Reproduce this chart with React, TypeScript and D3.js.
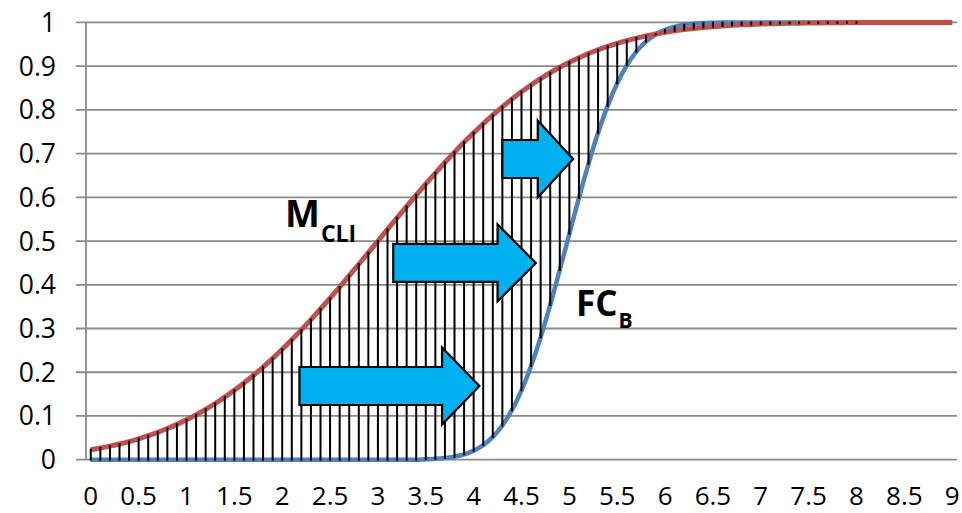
import React from "react";
import * as d3 from "d3";

// Category values on the x axis (step 0.1)
const xValues = [
  0, 0.1, 0.2, 0.3, 0.4, 0.5, 0.6, 0.7, 0.8, 0.9,
  1, 1.1, 1.2, 1.3, 1.4, 1.5, 1.6, 1.7, 1.8, 1.9,
  2, 2.1, 2.2, 2.3, 2.4, 2.5, 2.6, 2.7, 2.8, 2.9,
  3, 3.1, 3.2, 3.3, 3.4, 3.5, 3.6, 3.7, 3.8, 3.9,
  4, 4.1, 4.2, 4.3, 4.4, 4.5, 4.6, 4.7, 4.8, 4.9,
  5, 5.1, 5.2, 5.3, 5.4, 5.5, 5.6, 5.7, 5.8, 5.9,
  6, 6.1, 6.2, 6.3, 6.4, 6.5, 6.6, 6.7, 6.8, 6.9,
  7, 7.1, 7.2, 7.3, 7.4, 7.5, 7.6, 7.7, 7.8, 7.9,
  8, 8.1, 8.2, 8.3, 8.4, 8.5, 8.6, 8.7, 8.8, 8.9,
  9,
];

// M_CLI (red)
const mcliValues = [
  0.0228, 0.0266, 0.031, 0.0359, 0.0415, 0.0478, 0.0548, 0.0626, 0.0712, 0.0808,
  0.0912, 0.1026, 0.1151, 0.1285, 0.1431, 0.1587, 0.1753, 0.1931, 0.2119, 0.2317,
  0.2525, 0.2743, 0.2969, 0.3204, 0.3446, 0.3694, 0.3949, 0.4207, 0.447, 0.4734,
  0.5, 0.5266, 0.553, 0.5793, 0.6051, 0.6306, 0.6554, 0.6796, 0.7031, 0.7257,
  0.7475, 0.7683, 0.7881, 0.8069, 0.8247, 0.8413, 0.8569, 0.8715, 0.8849, 0.8974,
  0.9088, 0.9192, 0.9288, 0.9374, 0.9452, 0.9522, 0.9585, 0.9641, 0.969, 0.9734,
  0.9772, 0.9806, 0.9836, 0.9861, 0.9883, 0.9902, 0.9918, 0.9932, 0.9944, 0.9953,
  0.9962, 0.9969, 0.9974, 0.9979, 0.9983, 0.9987, 0.9989, 0.9991, 0.9993, 0.9995,
  0.9996, 1, 1, 1, 1, 1, 1, 1, 1, 1,
  1,
];

// FC_B (blue)
const fcbValues = [
  0, 0, 0, 0, 0, 0, 0, 0, 0, 0,
  0, 0, 0, 0, 0, 0, 0, 0, 0, 0,
  0, 0, 0, 0, 0, 0, 0, 0, 0, 0,
  0, 0, 0, 0, 0, 0.001, 0.002, 0.0038, 0.007, 0.0122,
  0.0206, 0.0334, 0.0521, 0.0783, 0.1135, 0.1587, 0.2142, 0.2799, 0.3538, 0.4338,
  0.5166, 0.5987, 0.6766, 0.7475, 0.8092, 0.8607, 0.9018, 0.9332, 0.9562, 0.9724,
  0.9832, 0.9902, 0.9945, 0.997, 0.9985, 0.9992, 0.9996, 0.9998, 0.9999, 1,
  1, 1, 1, 1, 1, 1, 1, 1, 1, 1,
  1, 1, 1, 1, 1, 1, 1, 1, 1, 1,
  1,
];

const xTickLabels = [
  "0", "0.5", "1", "1.5", "2", "2.5", "3", "3.5", "4", "4.5",
  "5", "5.5", "6", "6.5", "7", "7.5", "8", "8.5", "9",
];
const yTicks = [0, 0.1, 0.2, 0.3, 0.4, 0.5, 0.6, 0.7, 0.8, 0.9, 1];
const yTickLabels = ["0", "0.1", "0.2", "0.3", "0.4", "0.5", "0.6", "0.7", "0.8", "0.9", "1"];

// Arrow annotations in data units
const arrowStartX = [2.18, 3.16, 4.3];
const arrowHeadX = [3.67, 4.25, 4.67];
const arrowTipX = [4.06, 4.65, 5.04];
const arrowY = [0.1685, 0.45, 0.6876];

// Curve labels in data units
const labelMain = ["M", "FC"];
const labelSub = ["CLI", "B"];
const labelX = [2.03, 5.07];
const labelY = [0.532, 0.3286];

const FONT = "'Open Sans', 'Liberation Sans', sans-serif";

export default function App() {
  const W = 962;
  const H = 513;
  const left = 86;
  const right = 957;
  const top = 22.4;
  const bottom = 459.7;

  const keys = xValues.map((v) => v.toFixed(1));
  const x = d3.scalePoint<string>().domain(keys).range([left, right]).padding(0.5);
  const xFirst = x(keys[0]) as number;
  const xLast = x(keys[keys.length - 1]) as number;
  const xLin = d3
    .scaleLinear()
    .domain([xValues[0], xValues[xValues.length - 1]])
    .range([xFirst, xLast]);
  const y = d3.scaleLinear().domain([0, 1]).range([bottom, top]);

  const line = d3
    .line<number>()
    .x((_, i) => x(keys[i]) as number)
    .y((d) => y(d))
    .curve(d3.curveMonotoneX);

  const bodyHalf = 19;
  const headHalf = 38.5;

  return (
    <svg
      width={W}
      height={H}
      style={{ position: "absolute", left: 0, top: 0, background: "#fff" }}
      fontFamily={FONT}
    >
      <rect x={0} y={0} width={W} height={H} fill="#fff" />
      {/* gridlines */}
      {yTicks.map((t) => (
        <line
          key={"g" + t}
          x1={left - 10}
          x2={right}
          y1={y(t)}
          y2={y(t)}
          stroke="#8a8a8a"
          strokeWidth={1.8}
        />
      ))}
      {/* y axis */}
      <line x1={left} x2={left} y1={y(1)} y2={y(0)} stroke="#8a8a8a" strokeWidth={1.8} />
      {/* y tick labels */}
      {yTicks.map((t, i) => (
        <text
          key={"yl" + t}
          x={56}
          y={y(t) + 9.5}
          textAnchor="end"
          fontSize={26.5}
          fill="#000"
        >
          {yTickLabels[i]}
        </text>
      ))}
      {/* x tick labels */}
      {xTickLabels.map((lab) => (
        <text
          key={"xl" + lab}
          x={xLin(parseFloat(lab))}
          y={505}
          textAnchor="middle"
          fontSize={26}
          fill="#000"
        >
          {lab}
        </text>
      ))}
      {/* series lines */}
      <path d={line(fcbValues) || ""} fill="none" stroke="#4F81BD" strokeWidth={4.5} strokeLinejoin="round" />
      <path d={line(mcliValues) || ""} fill="none" stroke="#C0504D" strokeWidth={5} strokeLinejoin="round" />
      {/* high-low lines */}
      {xValues.map((v, i) => {
        const a = mcliValues[i];
        const b = fcbValues[i];
        if (a === b) return null;
        const px = x(keys[i]) as number;
        return (
          <line
            key={"hl" + i}
            x1={px}
            x2={px}
            y1={y(a)}
            y2={y(b)}
            stroke="#000"
            strokeWidth={2}
            strokeLinecap="square"
          />
        );
      })}
      {/* arrows */}
      {arrowY.map((ay, i) => {
        const cy = y(ay);
        const sx = xLin(arrowStartX[i]);
        const hx = xLin(arrowHeadX[i]);
        const tx = xLin(arrowTipX[i]);
        const d = `M${sx},${cy - bodyHalf}L${hx},${cy - bodyHalf}L${hx},${cy - headHalf}L${tx},${cy}L${hx},${cy + headHalf}L${hx},${cy + bodyHalf}L${sx},${cy + bodyHalf}Z`;
        return <path key={"ar" + i} d={d} fill="#00B0F0" stroke="#000" strokeWidth={2.2} strokeLinejoin="miter" />;
      })}
      {/* curve labels */}
      {labelMain.map((m, i) => (
        <text
          key={"lb" + i}
          x={xLin(labelX[i])}
          y={y(labelY[i])}
          fontWeight="bold"
          fontSize={i === 0 ? 37 : 35}
          fill="#000"
        >
          {m}
          <tspan fontSize={i === 0 ? 23 : 21} dy={i === 0 ? 15 : 12} dx={1}>
            {labelSub[i]}
          </tspan>
        </text>
      ))}
    </svg>
  );
}
